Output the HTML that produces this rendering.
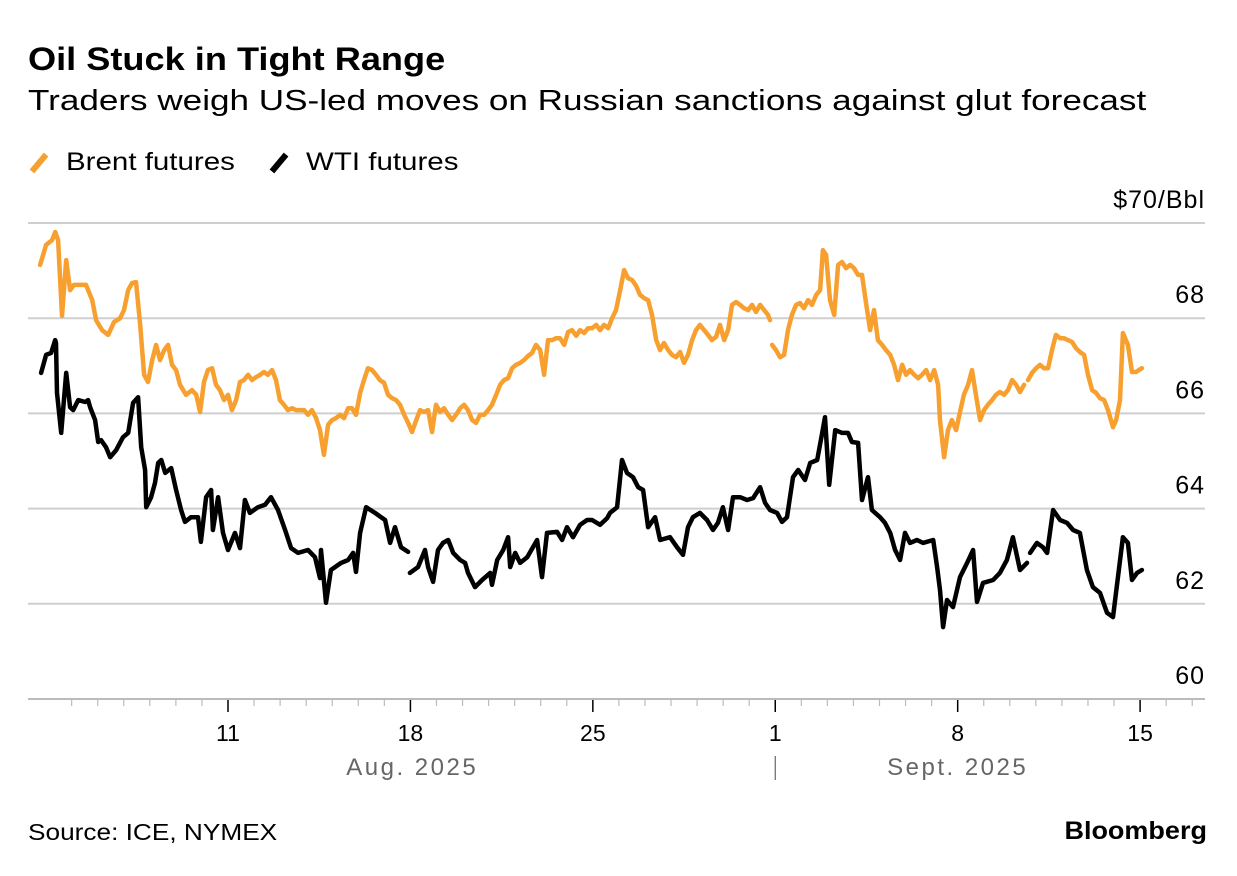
<!DOCTYPE html>
<html><head><meta charset="utf-8">
<style>
html,body{margin:0;padding:0;background:#fff;}
body{width:1237px;height:876px;position:relative;overflow:hidden;font-family:"Liberation Sans",Arial,sans-serif;color:#000;}
.t{position:absolute;white-space:nowrap;transform-origin:0 0;}
</style></head>
<body>
<div class="t" style="left:28px;top:41px;font-size:32px;font-weight:bold;transform:scaleX(1.13);">Oil Stuck in Tight Range</div>
<div class="t" style="left:28px;top:85px;font-size:29px;transform:scaleX(1.21);">Traders weigh US-led moves on Russian sanctions against glut forecast</div>
<div class="t" style="left:28px;top:148px;font-size:25px;"><span style="display:inline-block;width:6px;height:22px;background:#f7a030;transform:rotate(40deg);vertical-align:-4px;margin:0 24px 0 8px;"></span><span style="display:inline-block;transform:scaleX(1.18);transform-origin:0 0;">Brent futures</span></div>
<div class="t" style="left:268px;top:148px;font-size:25px;"><span style="display:inline-block;width:6px;height:22px;background:#000;transform:rotate(40deg);vertical-align:-4px;margin:0 24px 0 8px;"></span><span style="display:inline-block;transform:scaleX(1.18);transform-origin:0 0;">WTI futures</span></div>
<div class="t" style="left:28px;top:819px;font-size:23px;transform:scaleX(1.14);">Source: ICE, NYMEX</div>
<div class="t" style="right:30px;top:817px;font-size:25px;font-weight:bold;transform:scaleX(1.08);transform-origin:100% 0;">Bloomberg</div>
<svg id="chart" width="1237" height="876" style="position:absolute;left:0;top:0;"></svg>
<script>
const yTicks=[60,62,64,66,68,70];
const xTickDays=[11,18,25,32,39,46];
const xTickLabels=["11","18","25","1","8","15"];
const brentDays=[3.79,4.02,4.25,4.37,4.48,4.63,4.79,4.94,5.09,5.32,5.55,5.79,5.94,6.17,6.40,6.63,6.86,7.01,7.17,7.32,7.47,7.63,7.78,7.93,8.09,8.24,8.39,8.55,8.70,8.85,9.01,9.16,9.39,9.62,9.78,9.93,10.08,10.23,10.39,10.54,10.69,10.85,11.00,11.15,11.31,11.46,11.61,11.77,11.92,12.07,12.23,12.38,12.53,12.69,12.84,12.99,13.15,13.30,13.46,13.61,13.76,13.92,14.07,14.22,14.38,14.53,14.68,14.84,14.99,15.14,15.30,15.45,15.61,15.76,15.91,16.07,16.22,16.37,16.53,16.68,16.83,16.99,17.14,17.30,17.45,17.60,17.76,17.91,18.06,18.22,18.37,18.52,18.68,18.83,18.98,19.14,19.29,19.45,19.60,19.75,19.91,20.06,20.21,20.37,20.52,20.67,20.83,20.98,21.13,21.29,21.44,21.59,21.75,21.90,22.05,22.21,22.36,22.52,22.67,22.82,22.98,23.13,23.28,23.44,23.59,23.74,23.90,24.05,24.20,24.36,24.51,24.67,24.82,24.97,25.13,25.28,25.43,25.59,25.74,25.89,26.05,26.20,26.35,26.51,26.66,26.81,26.97,27.12,27.27,27.43,27.58,27.73,27.89,28.04,28.19,28.35,28.50,28.65,28.81,28.96,29.11,29.27,29.42,29.57,29.73,29.88,30.04,30.19,30.34,30.50,30.65,30.80,30.96,31.11,31.26,31.42,31.57,31.72,31.80,31.84,31.88,32.03,32.18,32.34,32.49,32.64,32.80,32.95,33.10,33.26,33.41,33.57,33.72,33.83,33.95,34.10,34.26,34.41,34.56,34.72,34.87,35.02,35.18,35.33,35.48,35.64,35.79,35.94,36.10,36.25,36.41,36.56,36.71,36.87,37.02,37.17,37.33,37.48,37.63,37.79,37.94,38.10,38.25,38.32,38.48,38.63,38.78,38.94,39.09,39.24,39.40,39.55,39.70,39.86,40.01,40.16,40.32,40.47,40.62,40.78,40.93,41.09,41.24,41.39,41.55,41.62,41.70,41.85,42.01,42.16,42.31,42.47,42.62,42.77,42.93,43.08,43.23,43.39,43.54,43.69,43.85,44.00,44.16,44.31,44.46,44.62,44.77,44.96,45.08,45.23,45.34,45.53,45.69,45.84,46.07];
const brentValues=[69.12,69.54,69.64,69.81,69.64,68.05,69.22,68.59,68.70,68.70,68.70,68.38,67.96,67.75,67.65,67.92,68.00,68.17,68.59,68.74,68.76,67.86,66.81,66.66,67.12,67.44,67.12,67.33,67.44,67.02,66.91,66.60,66.39,66.49,66.39,66.03,66.66,66.91,66.95,66.60,66.49,66.28,66.39,66.07,66.28,66.66,66.70,66.81,66.70,66.76,66.81,66.87,66.81,66.91,66.70,66.28,66.18,66.07,66.11,66.07,66.07,66.07,65.97,66.07,65.90,65.65,65.13,65.76,65.86,65.90,65.97,65.90,66.11,66.11,65.97,66.43,66.70,66.95,66.91,66.81,66.70,66.64,66.39,66.32,66.28,66.18,65.97,65.80,65.61,65.86,66.07,66.03,66.07,65.61,66.18,66.03,66.11,65.97,65.86,65.97,66.11,66.18,66.07,65.86,65.80,65.97,65.97,66.07,66.18,66.39,66.60,66.70,66.74,66.95,67.02,67.06,67.12,67.21,67.27,67.44,67.33,66.81,67.54,67.54,67.58,67.58,67.44,67.71,67.75,67.63,67.75,67.69,67.79,67.79,67.86,67.75,67.86,67.79,68.00,68.17,68.59,69.01,68.84,68.80,68.68,68.49,68.42,68.38,68.07,67.54,67.33,67.48,67.33,67.23,67.18,67.29,67.06,67.23,67.54,67.75,67.86,67.75,67.65,67.54,67.61,67.86,67.54,67.75,68.28,68.34,68.28,68.21,68.17,68.28,68.13,68.28,68.17,68.07,67.96,null,67.44,67.33,67.18,67.23,67.75,68.07,68.28,68.32,68.21,68.38,68.28,68.49,68.59,69.43,69.33,68.38,68.07,69.12,69.18,69.05,69.12,69.05,68.91,68.91,68.34,67.75,68.17,67.54,67.44,67.33,67.23,67.02,66.70,67.02,66.81,66.91,66.81,66.74,66.81,66.91,66.70,66.91,66.60,65.86,65.08,65.65,65.86,65.65,66.03,66.39,66.60,66.91,66.39,65.86,66.07,66.18,66.28,66.39,66.45,66.39,66.49,66.70,66.60,66.45,66.60,null,66.70,66.85,66.95,67.02,66.95,66.95,67.33,67.65,67.58,67.58,67.54,67.50,67.37,67.29,67.23,66.81,66.49,66.43,66.32,66.28,66.07,65.71,65.86,66.28,67.69,67.44,66.87,66.87,66.95];
const wtiDays=[3.83,4.02,4.21,4.37,4.40,4.44,4.60,4.79,4.94,5.06,5.25,5.52,5.63,5.71,5.90,6.02,6.13,6.32,6.48,6.71,6.97,7.17,7.36,7.55,7.67,7.82,7.86,8.05,8.20,8.32,8.44,8.59,8.82,9.01,9.20,9.35,9.58,9.85,9.96,10.16,10.35,10.42,10.62,10.81,11.00,11.27,11.46,11.65,11.84,12.15,12.42,12.65,12.92,13.19,13.42,13.69,14.07,14.34,14.53,14.57,14.76,14.95,15.34,15.61,15.80,15.91,16.07,16.30,16.64,17.03,17.22,17.41,17.64,17.91,17.95,17.98,18.29,18.56,18.68,18.87,19.06,19.25,19.45,19.64,19.91,20.10,20.21,20.48,20.75,21.06,21.13,21.33,21.56,21.75,21.83,22.02,22.21,22.48,22.86,23.05,23.24,23.63,23.82,24.01,24.24,24.51,24.78,24.97,25.28,25.55,25.66,25.93,26.12,26.31,26.54,26.74,26.93,27.12,27.39,27.58,27.96,28.23,28.46,28.65,28.84,29.11,29.38,29.61,29.80,29.99,30.19,30.38,30.65,30.92,31.15,31.42,31.61,31.80,32.07,32.26,32.45,32.68,32.88,33.14,33.34,33.61,33.80,33.91,34.07,34.30,34.56,34.79,34.94,35.18,35.33,35.56,35.71,36.02,36.21,36.41,36.60,36.79,36.98,37.17,37.44,37.67,38.06,38.21,38.32,38.44,38.59,38.82,39.09,39.36,39.59,39.74,39.97,40.36,40.62,40.89,41.12,41.39,41.66,41.72,41.78,42.04,42.27,42.43,42.66,42.93,43.20,43.43,43.69,43.96,44.19,44.46,44.73,44.96,45.34,45.53,45.69,45.88,46.07];
const wtiValues=[66.85,67.23,67.27,67.54,67.48,66.43,65.59,66.85,66.13,66.07,66.28,66.24,66.28,66.13,65.86,65.40,65.44,65.29,65.08,65.23,65.50,65.59,66.22,66.34,65.29,64.81,64.03,64.24,64.54,64.96,65.02,64.75,64.85,64.39,63.97,63.72,63.82,63.82,63.30,64.24,64.39,63.55,64.24,63.49,63.13,63.49,63.17,64.18,63.91,64.03,64.08,64.24,63.97,63.55,63.17,63.07,63.13,62.98,62.54,63.13,62.02,62.71,62.86,62.92,63.07,62.67,63.49,64.03,63.91,63.76,63.28,63.61,63.19,63.09,null,62.65,62.77,63.13,62.77,62.46,63.13,63.28,63.34,63.07,62.92,62.86,62.65,62.35,62.50,62.65,62.40,62.92,63.13,63.40,62.77,63.07,62.86,62.98,63.34,62.56,63.49,63.51,63.34,63.61,63.40,63.66,63.76,63.76,63.66,63.80,63.91,64.03,65.02,64.75,64.66,64.45,64.39,63.61,63.82,63.34,63.40,63.19,63.03,63.61,63.82,63.91,63.76,63.55,63.70,64.03,63.55,64.24,64.24,64.18,64.22,64.45,64.12,63.97,63.91,63.72,63.82,64.66,64.81,64.60,64.96,65.02,65.59,65.92,64.50,65.65,65.59,65.59,65.40,65.38,64.18,64.66,63.97,63.82,63.70,63.49,63.13,62.92,63.49,63.28,63.34,63.28,63.34,62.77,62.29,61.51,62.08,61.93,62.56,62.86,63.13,62.04,62.44,62.50,62.65,62.92,63.40,62.71,62.86,null,63.07,63.28,63.19,63.07,63.97,63.76,63.70,63.55,63.49,62.71,62.35,62.23,61.81,61.72,63.40,63.28,62.50,62.65,62.71];

const NS='http://www.w3.org/2000/svg';
const svg=document.getElementById('chart');
const X0=28,X1=1205;
function xScale(d){return 228+(d-11)*26.06;}
function yScale(v){return 699-(v-60)*47.6;}
function mk(tag,attrs){const e=document.createElementNS(NS,tag);for(const k in attrs)e.setAttribute(k,attrs[k]);svg.appendChild(e);return e;}

yTicks.forEach(v=>{
  const y=yScale(v);
  const l=mk('line',{x1:X0,x2:X1,y1:y,y2:y,stroke:v===60?'#bbb':'#cfcfcf','stroke-width':2});
  
  
  const t=mk('text',{x:1205,y:y-15,'text-anchor':'end','font-size':25,'letter-spacing':'1','font-family':'Liberation Sans, sans-serif',fill:'#000'});
  t.textContent=v===70?'$70/Bbl':String(v);
  
  
});
for(let d=5;d<=48;d++){
  const x=xScale(d);if(x>X1)break;
  const major=xTickDays.indexOf(d)>=0;
  const tk=mk('line',{x1:x,x2:x,y1:700,y2:major?712:706,stroke:major?'#000':'#bbb','stroke-width':major?1.5:1.2});
  
  
}
xTickDays.forEach((d,i)=>{
  const t=mk('text',{x:xScale(d),y:741,'text-anchor':'middle','font-size':23,'font-family':'Liberation Sans, sans-serif',fill:'#000'});
  t.textContent=xTickLabels[i];
  
  
});
[['Aug. 2025',xScale(18.07)],['Sept. 2025',xScale(39)]].forEach(m=>{
  const t=mk('text',{x:m[1],y:775,'text-anchor':'middle','font-size':24,'font-family':'Liberation Sans, sans-serif',fill:'#666','letter-spacing':'2.5'});
  t.textContent=m[0];
  
  
});
const sep=mk('line',{x1:xScale(32),x2:xScale(32),y1:756,y2:780,stroke:'#666','stroke-width':1.2});



function path(days,vals){
  let d='',pen=false;
  for(let i=0;i<days.length;i++){
    if(vals[i]===null){pen=false;continue;}
    d+=(pen?'L':'M')+xScale(days[i]).toFixed(1)+' '+yScale(vals[i]).toFixed(1);pen=true;
  }
  return d;
}
const pb=mk('path',{d:path(brentDays,brentValues),fill:'none',stroke:'#f7a030','stroke-width':4.5,'stroke-linejoin':'round','stroke-linecap':'round'});


const pw=mk('path',{d:path(wtiDays,wtiValues),fill:'none',stroke:'#000','stroke-width':4.5,'stroke-linejoin':'round','stroke-linecap':'round'});


</script>
</body></html>
